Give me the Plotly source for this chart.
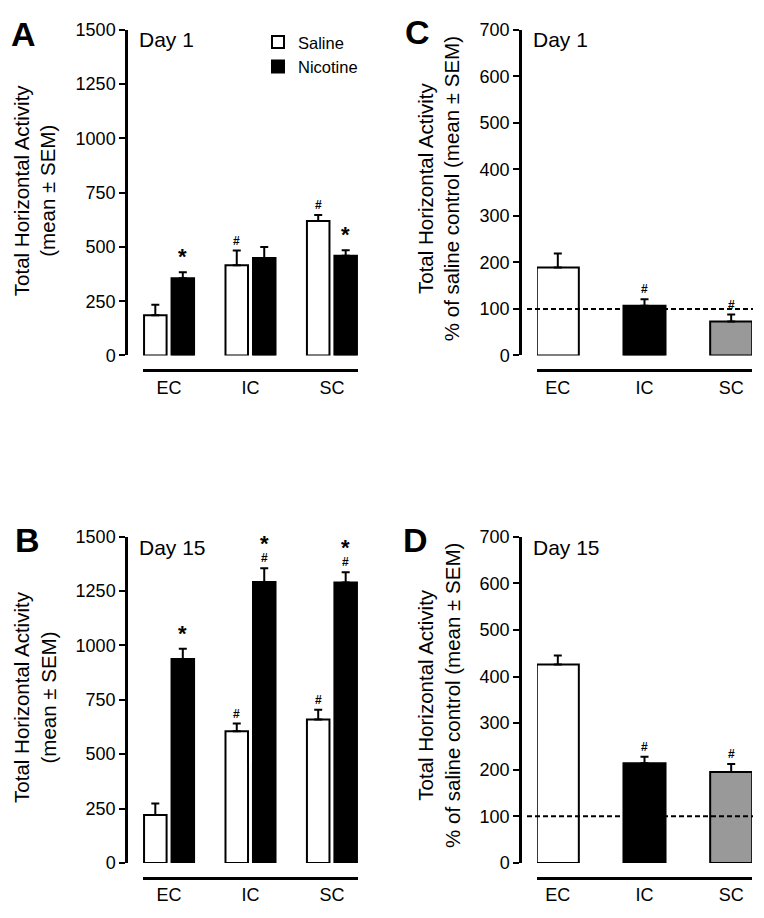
import plotly.graph_objects as go

W, H = 764, 918
PAGE_OFFSET = 8  # browser body margin

categories = ["EC", "IC", "SC"]

# Panel A (Day 1) raw counts
day1_saline = [185, 416, 619]
day1_saline_sem = [49, 67, 28]
day1_nicotine = [356, 449, 459]
day1_nicotine_sem = [27, 50, 26]

# Panel B (Day 15) raw counts
day15_saline = [220, 605, 660]
day15_saline_sem = [53, 36, 44]
day15_nicotine = [938, 1292, 1290]
day15_nicotine_sem = [47, 63, 47]

# Panels C/D: % of saline control
day1_pct = [189, 107, 73]
day1_pct_sem = [30, 14, 15]
day15_pct = [426, 214, 195]
day15_pct_sem = [19, 14, 17]

# significance marks (listed top-down)
day1_saline_marks = [[], ["#"], ["#"]]
day1_nicotine_marks = [["*"], [], ["*"]]
day15_saline_marks = [[], ["#"], ["#"]]
day15_nicotine_marks = [["*"], ["*", "#"], ["*", "#"]]
day1_pct_marks = [[], ["#"], ["#"]]
day15_pct_marks = [[], ["#"], ["#"]]

raw_ticks = [0, 250, 500, 750, 1000, 1250, 1500]
pct_ticks = [0, 100, 200, 300, 400, 500, 600, 700]
control_level = 100

FONT = "Arial, Liberation Sans, Helvetica, sans-serif"
pct_colors = ["white", "black", "#999999"]


def px_x(p):
    return (p - PAGE_OFFSET) / W


def px_y(p):
    return 1 - (p - PAGE_OFFSET) / H


fig = go.Figure()

panels = {
    "A": dict(xd=(143, 358), yx=126, yt=20, yb=353, xl=368, xr=[-0.32, 2.32], yr=[0, 1500], ticks=raw_ticks),
    "C": dict(xd=(537, 752), yx=520, yt=20, yb=353, xl=368, xr=[-0.24, 2.24], yr=[0, 700], ticks=pct_ticks),
    "B": dict(xd=(143, 358), yx=126, yt=538.3, yb=871.7, xl=886.7, xr=[-0.32, 2.32], yr=[0, 1500], ticks=raw_ticks),
    "D": dict(xd=(537, 752), yx=520, yt=538.3, yb=871.7, xl=886.7, xr=[-0.24, 2.24], yr=[0, 700], ticks=pct_ticks),
}
axis_ids = {"A": ("x", "y"), "C": ("x2", "y2"), "B": ("x3", "y3"), "D": ("x4", "y4")}

bar_line = dict(color="black", width=2)


def err(arr):
    return dict(type="data", array=arr, arrayminus=[0] * len(arr), symmetric=False,
                color="black", thickness=2, width=4)


fig.add_trace(go.Bar(x=categories, y=day1_saline, name="Saline", marker=dict(color="white", line=bar_line),
                     error_y=err(day1_saline_sem), xaxis="x", yaxis="y", cliponaxis=False))
fig.add_trace(go.Bar(x=categories, y=day1_nicotine, name="Nicotine", marker=dict(color="black", line=bar_line),
                     error_y=err(day1_nicotine_sem), xaxis="x", yaxis="y", cliponaxis=False))
fig.add_trace(go.Bar(x=categories, y=day15_saline, name="Saline", marker=dict(color="white", line=bar_line),
                     error_y=err(day15_saline_sem), xaxis="x3", yaxis="y3", cliponaxis=False, showlegend=False))
fig.add_trace(go.Bar(x=categories, y=day15_nicotine, name="Nicotine", marker=dict(color="black", line=bar_line),
                     error_y=err(day15_nicotine_sem), xaxis="x3", yaxis="y3", cliponaxis=False, showlegend=False))
fig.add_trace(go.Bar(x=categories, y=day1_pct, marker=dict(color=pct_colors, line=bar_line),
                     error_y=err(day1_pct_sem), xaxis="x2", yaxis="y2", cliponaxis=False, showlegend=False,
                     width=0.485))
fig.add_trace(go.Bar(x=categories, y=day15_pct, marker=dict(color=pct_colors, line=bar_line),
                     error_y=err(day15_pct_sem), xaxis="x4", yaxis="y4", cliponaxis=False, showlegend=False,
                     width=0.485))

layout = dict(
    width=W, height=H, margin=dict(l=0, r=0, t=0, b=0),
    paper_bgcolor="white", plot_bgcolor="rgba(0,0,0,0)",
    barmode="group", bargap=0.325, bargroupgap=0.18,
    font=dict(family=FONT, color="black", size=18),
    legend=dict(x=px_x(258), y=px_y(15), xanchor="left", yanchor="top",
                font=dict(size=16.5, family=FONT), bgcolor="rgba(0,0,0,0)", tracegroupgap=0,
                itemwidth=30),
)

annotations = []
shapes = []
for key, p in panels.items():
    xa, ya = axis_ids[key]
    xname = "xaxis" + xa[1:]
    yname = "yaxis" + ya[1:]
    layout[xname] = dict(
        domain=[px_x(p["xd"][0]), px_x(p["xd"][1])], range=p["xr"], anchor="free",
        position=px_y(p["xl"]), showline=True, linecolor="black", linewidth=2.5,
        ticks="", showgrid=False, zeroline=False, tickfont=dict(size=18, family=FONT),
        type="category", fixedrange=True,
    )
    layout[yname] = dict(
        domain=[px_y(p["yb"]), px_y(p["yt"])], range=p["yr"], anchor="free",
        position=px_x(p["yx"]), showline=True, linecolor="black", linewidth=2.5,
        ticks="outside", ticklen=6, tickwidth=2, tickcolor="black",
        tickvals=p["ticks"], showgrid=False, zeroline=False,
        tickfont=dict(size=18, family=FONT), fixedrange=True,
    )

for letter, (cx, cy) in {"A": (23, 24), "C": (417, 22), "B": (27, 541.5), "D": (415, 542)}.items():
    annotations.append(dict(text="<b>" + letter + "</b>", x=px_x(cx), y=px_y(cy), xref="paper", yref="paper",
                            showarrow=False, xanchor="center", yanchor="middle",
                            font=dict(size=34, family=FONT, color="black")))

for txt, (lx, cy) in [("Day 1", (137, 30)), ("Day 1", (531, 30)), ("Day 15", (137, 549)), ("Day 15", (531, 549))]:
    annotations.append(dict(text=txt, x=px_x(lx), y=px_y(cy), xref="paper", yref="paper",
                            showarrow=False, xanchor="left", yanchor="middle",
                            font=dict(size=21, family=FONT, color="black")))

raw_title = "Total Horizontal Activity<br>(mean ± SEM)"
pct_title = "Total Horizontal Activity<br>% of saline control (mean ± SEM)"
for txt, (cx, cy) in [(raw_title, (35, 184)), (pct_title, (439, 183)),
                      (raw_title, (35, 702)), (pct_title, (439, 701))]:
    annotations.append(dict(text=txt, x=px_x(cx), y=px_y(cy), xref="paper", yref="paper",
                            showarrow=False, xanchor="center", yanchor="middle", textangle=-90,
                            font=dict(size=20.5, family=FONT, color="black")))

STAR = "<span style='font-size:22px'><b>*</b></span>"
HASH = "<span style='font-size:12px'><b>#</b></span>"


def add_marks(values, sems, marks, xa, ya, xshift):
    for cat, v, e, mk in zip(categories, values, sems, marks):
        if not mk:
            continue
        parts = [STAR if s == "*" else HASH for s in mk]
        text = "<br>".join(parts)
        annotations.append(dict(text=text, x=cat, y=v + e, xref=xa, yref=ya, showarrow=False,
                                xanchor="center", yanchor="bottom", xshift=xshift, yshift=1,
                                font=dict(size=8.5, family=FONT, color="black")))


add_marks(day1_saline, day1_saline_sem, day1_saline_marks, "x", "y", -13.75)
add_marks(day1_nicotine, day1_nicotine_sem, day1_nicotine_marks, "x", "y", 13.75)
add_marks(day15_saline, day15_saline_sem, day15_saline_marks, "x3", "y3", -13.75)
add_marks(day15_nicotine, day15_nicotine_sem, day15_nicotine_marks, "x3", "y3", 13.75)
add_marks(day1_pct, day1_pct_sem, day1_pct_marks, "x2", "y2", 0)
add_marks(day15_pct, day15_pct_sem, day15_pct_marks, "x4", "y4", 0)

for ya in ["y2", "y4"]:
    shapes.append(dict(type="line", xref="paper", yref=ya, x0=px_x(527), x1=px_x(753),
                       y0=control_level, y1=control_level, layer="above",
                       line=dict(color="black", width=2, dash="5px,3px")))

layout["annotations"] = annotations
layout["shapes"] = shapes
fig.update_layout(**layout)

fig.write_html("out.html", config={"displayModeBar": False})
